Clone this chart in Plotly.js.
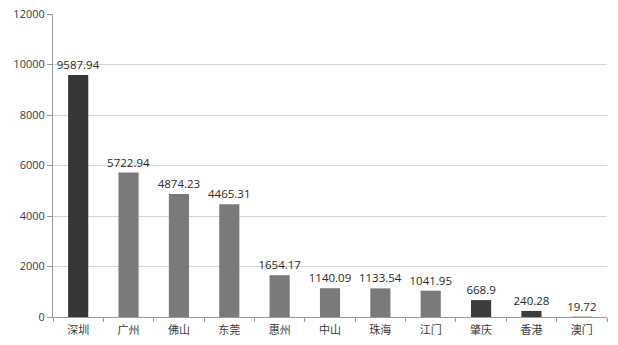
<!DOCTYPE html>
<html><head><meta charset="utf-8">
<script src="https://cdn.plot.ly/plotly-3.0.1.min.js"></script>
<style>html,body{margin:0;padding:0;background:#fff}#c{width:618px;height:345px}</style>
</head><body><div id="c"></div>
<script>
const cities = ["深圳","广州","佛山","东莞","惠州","中山","珠海","江门","肇庆","香港","澳门"];
const values = [9587.94,5722.94,4874.23,4465.31,1654.17,1140.09,1133.54,1041.95,668.9,240.28,19.72];
const labels = ["9587.94","5722.94","4874.23","4465.31","1654.17","1140.09","1133.54","1041.95","668.9","240.28","19.72"];
const barColors = ["#363636","#7a7a7a","#7a7a7a","#7a7a7a","#7a7a7a","#7a7a7a","#7a7a7a","#7a7a7a","#3c3c3c","#3c3c3c","#8a8a8a"];
const yTicks = [0,2000,4000,6000,8000,10000,12000];

Plotly.newPlot("c",[{
  type:"bar", x:cities, y:values, text:labels, textposition:"outside", constraintext:"none",
  textfont:{family:"Open Sans, Noto Sans, sans-serif",size:11.5,color:"#2a2a2a"},
  marker:{color:barColors, line:{width:0}}, cliponaxis:false, hoverinfo:"none"
}],{
  width:618,height:345,margin:{l:53,r:11,t:14,b:28},
  paper_bgcolor:"#fff",plot_bgcolor:"#fff",bargap:0.6,showlegend:false,
  font:{family:"Open Sans, Noto Sans CJK SC, sans-serif",size:11,color:"#333"},
  xaxis:{showline:true,linecolor:"#999",ticks:"outside",tickson:"boundaries",ticklen:4,tickcolor:"#999",
    ticklabelstandoff:3,
    tickfont:{family:"Noto Sans CJK SC, sans-serif",size:11,color:"#3a3a3a"},showgrid:false},
  yaxis:{range:[0,12000],tickvals:yTicks,ticktext:yTicks.map(String),showline:true,linecolor:"#999",
    ticks:"outside",ticklen:5,tickcolor:"#999",gridcolor:"#d4d4d4",zeroline:false,
    tickfont:{family:"Open Sans, sans-serif",size:11,color:"#3a3a3a"}}
},{staticPlot:true});
</script></body></html>
